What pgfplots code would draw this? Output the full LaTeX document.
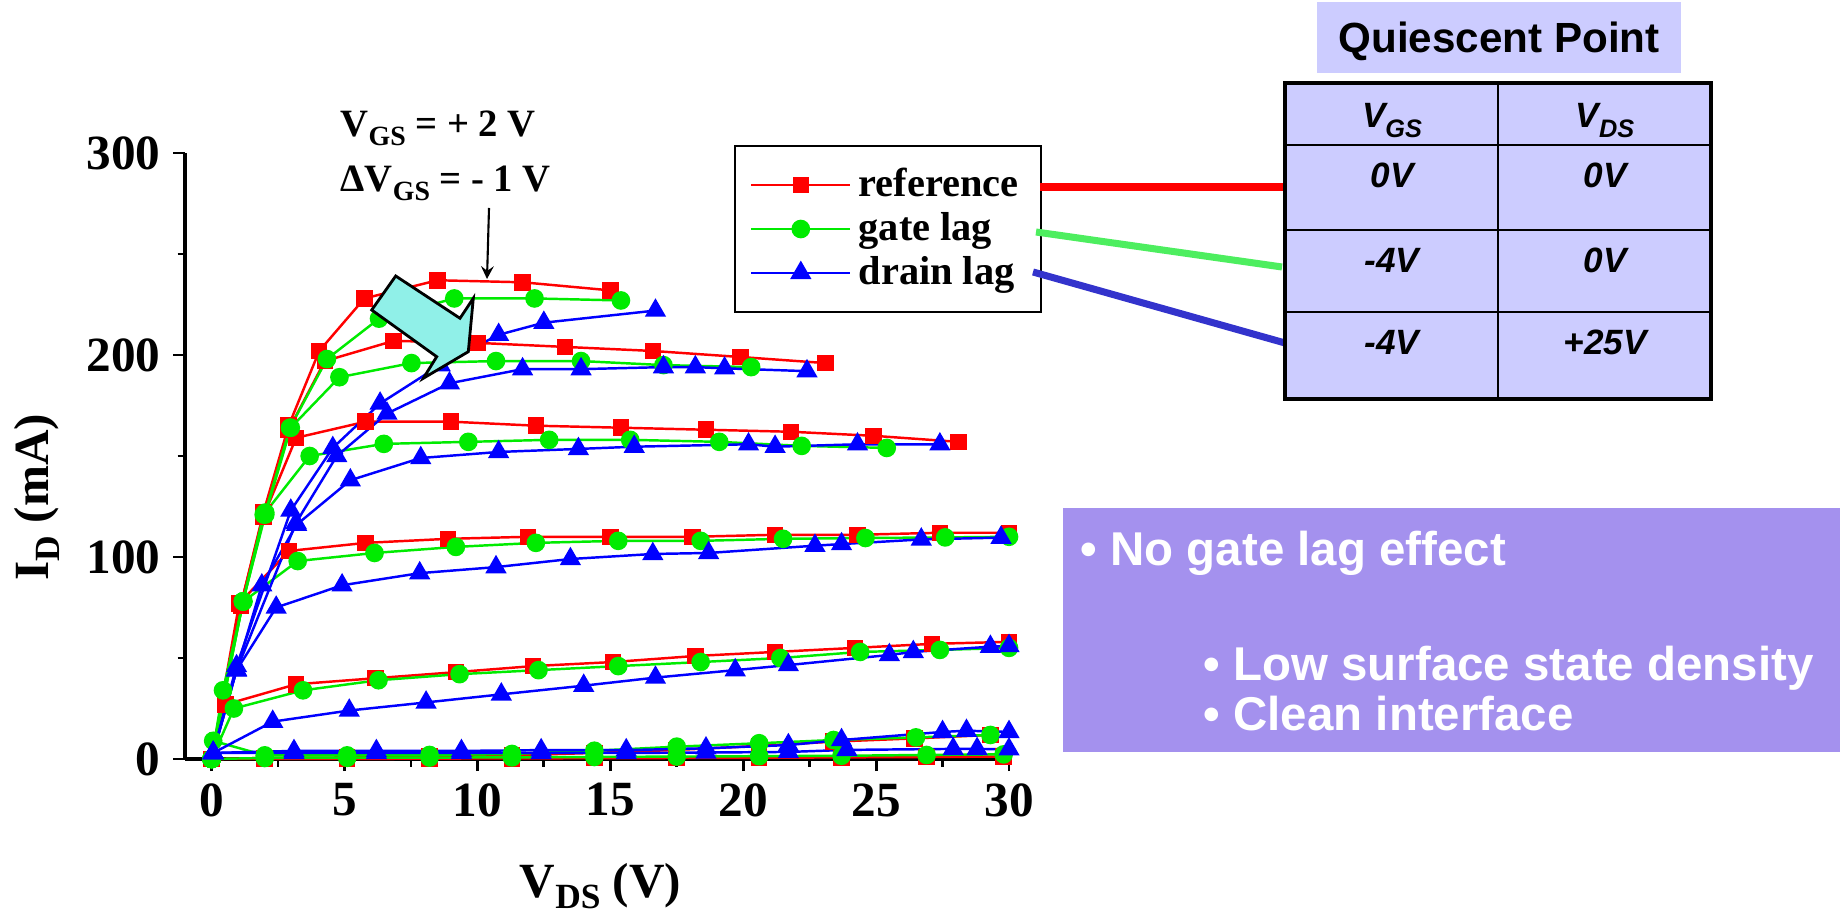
\documentclass[border=0pt]{standalone}
\usepackage{pgfplots}
\pgfplotsset{compat=1.18}
\usepackage{graphicx}
\usepackage{fontspec}
\setmainfont{Liberation Serif}
\newfontfamily\sansf{Liberation Sans}
\definecolor{gg}{RGB}{0,235,0}
\definecolor{lav}{RGB}{204,204,255}
\definecolor{purp}{RGB}{164,145,238}
\definecolor{cyanar}{RGB}{144,240,232}
\definecolor{lgreen}{RGB}{77,238,95}
\definecolor{cblue}{RGB}{51,51,204}
\newcommand\sub[1]{\raisebox{-0.5ex}{\scalebox{0.72}{#1}}}
\pgfplotsset{
 refs/.style={color=red, line width=0.7pt, mark=square*, mark size=2pt, mark options={solid}},
 gls/.style={color=gg, line width=0.7pt, mark=*, mark size=2.3pt, mark options={solid}},
 dls/.style={color=blue, line width=0.7pt, mark=triangle*, mark size=2.8pt, mark options={solid}},
}
\begin{document}
\begin{tikzpicture}
\path[use as bounding box] (0,0) rectangle (184.8mm,-92.2mm);
\begin{axis}[
 at={(18.5mm,-75.9mm)}, anchor=south west, scale only axis,
 width=82.4mm, height=60.6mm,
 xmin=-1, xmax=30, ymin=0, ymax=300,
 axis lines=left, axis line style={-, line width=0.9pt},
 xtick={0,5,...,30}, ytick={0,100,200,300},
 minor x tick num=1, minor y tick num=1,
 tick align=outside, major tick length=1.2mm, minor tick length=0.75mm,
 every tick/.style={black, line width=0.8pt},
 tick label style={font=\bfseries\fontsize{14}{16}\selectfont},
 /pgf/number format/assume math mode=true,
 clip=false,
 legend style={at={(0.6663,1.0132)}, anchor=north west, draw=black, line width=0.6pt,
   font=\bfseries\fontsize{11.5}{13}\selectfont, inner xsep=1.5mm, inner ysep=1.5mm,
   row sep=-1pt},
 legend cell align=left,
 legend image code/.code={\draw[mark repeat=2,mark phase=2,#1] plot coordinates {(0mm,0mm) (4.95mm,0mm) (9.9mm,0mm)};},
]
% reference
\addplot[refs] coordinates {(0,0)(1.1,76)(1.95,122)(2.9,165)(4.05,202)(5.75,228)(8.5,237)(11.7,236)(15,232)};
\addlegendentry{reference}
\addplot[refs,forget plot] coordinates {(0,0)(1.1,76)(1.95,121)(2.9,163)(4.26,197)(6.85,207)(10,206)(13.3,204)(16.6,202)(19.9,199)(23.1,196)};
\addplot[refs,forget plot] coordinates {(0,0)(1.1,76)(1.95,120)(3.18,159)(5.8,167)(9,167)(12.2,165)(15.4,164)(18.6,163)(21.8,162)(24.9,160)(28.1,157)};
\addplot[refs,forget plot] coordinates {(0,0)(1.04,77)(2.91,103)(5.8,107)(8.9,109)(11.9,110)(15,110)(18.1,110)(21.2,111)(24.3,111)(27.4,112)(30,112)};
\addplot[refs,forget plot] coordinates {(0,0)(0.53,27)(3.18,37)(6.17,40)(9.2,43)(12.1,46)(15.1,48)(18.2,51)(21.2,53)(24.2,55)(27.1,57)(30,58)};
\addplot[refs,forget plot] coordinates {(0,0)(2,0.5)(5.1,0.8)(8.2,1.2)(11.3,1.8)(14.4,3)(17.5,4.5)(20.6,6.5)(23.4,8.6)(26.45,10.2)(29.3,11.9)};
\addplot[refs,forget plot] coordinates {(0,0)(2,0)(5.1,0)(8.2,0.2)(11.3,0.3)(14.4,0.4)(17.5,0.5)(20.6,0.6)(23.7,0.8)(26.9,1)(29.8,1.2)};
% gate lag
\addplot[gls] coordinates {(0,0)(1.18,78)(2.02,122)(2.95,164)(4.34,198)(6.3,218)(9.13,228)(12.15,228)(15.4,227)};
\addlegendentry{gate lag}
\addplot[gls,forget plot] coordinates {(0,0)(1.18,78)(2.02,121)(2.98,164)(4.81,189)(7.52,196)(10.7,197)(13.9,197)(17,195)(20.3,194)};
\addplot[gls,forget plot] coordinates {(0,0)(1.18,78)(1.96,121)(3.69,150)(6.48,156)(9.66,157)(12.7,158)(15.75,158)(19.1,157)(22.2,155)(25.4,154)};
\addplot[gls,forget plot] coordinates {(0,0)(0.43,34)(1.2,78)(3.24,98)(6.13,102)(9.19,105)(12.2,107)(15.3,108)(18.4,108)(21.5,109)(24.6,109.4)(27.6,109.7)(30,110)};
\addplot[gls,forget plot] coordinates {(0,0)(0.84,25)(3.44,34)(6.28,39)(9.33,42)(12.3,44)(15.3,46)(18.4,48)(21.4,50)(24.4,53)(27.4,54)(30,55)};
\addplot[gls,forget plot] coordinates {(0,0)(0.06,9)(2,1.8)(5.1,1.8)(8.2,2)(11.3,2.5)(14.4,4.1)(17.5,6.1)(20.6,7.8)(23.4,9.4)(26.5,10.7)(29.3,11.9)};
\addplot[gls,forget plot] coordinates {(0,0)(2,0.5)(5.1,0.6)(8.2,0.7)(11.3,0.8)(14.4,1)(17.5,1.2)(20.6,1.4)(23.7,1.6)(26.9,2)(29.8,2.3)};
% drain lag
\addplot[dls] coordinates {(0.06,3)(0.94,46)(2.98,123)(4.56,154)(6.34,176)(8.6,195)(10.8,210)(12.5,216)(16.7,222)};
\addlegendentry{drain lag}
\addplot[dls,forget plot] coordinates {(0.06,3)(0.94,44)(3.18,117)(4.71,150)(6.6,171)(8.95,186)(11.7,193)(13.9,193)(17,194)(18.2,194)(19.3,193.4)(22.4,192)};
\addplot[dls,forget plot] coordinates {(0.06,3)(0.94,44)(1.89,86)(3.2,116)(5.22,138)(7.87,149)(10.8,152)(13.8,153.5)(15.9,154.6)(20.2,155.8)(21.2,154.6)(24.3,155.8)(27.4,155.8)};
\addplot[dls,forget plot] coordinates {(0.06,3)(0.94,44)(2.43,75)(4.91,86)(7.83,92)(10.7,95)(13.5,99)(16.6,101.5)(18.7,102)(22.7,105.6)(23.7,106.4)(26.7,108.7)(29.7,109.6)};
\addplot[dls,forget plot] coordinates {(0.06,3)(2.3,18.5)(5.18,24)(8.07,28)(10.9,32)(14,36.3)(16.7,40.3)(19.7,44)(21.7,46.5)(25.5,51.5)(26.4,53)(29.3,55.6)(30,56)};
\addplot[dls,forget plot] coordinates {(0.06,3)(3.1,4)(6.2,4)(9.4,4)(12.4,4.4)(15.6,4.4)(18.6,5.3)(21.7,6.9)(23.7,9.4)(27.5,13.4)(28.4,14)(30,13.4)};
\addplot[dls,forget plot] coordinates {(0.06,3)(3.1,3)(6.2,3)(9.4,3)(12.4,3)(15.6,3)(18.6,3.2)(21.7,3.5)(23.9,4.5)(27.9,5)(28.8,5)(30,4.8)};
\end{axis}
\begin{scope}[x=0.1mm, y=-0.1mm]
% block arrow
\filldraw[fill=cyanar, draw=black, line width=0.8pt, line join=miter]
 (395.7,276) -- (460,318.3) -- (473.3,298.3) -- (468.3,351.7) -- (423.3,378.3) -- (436.7,356.7) -- (371.7,310) -- cycle;
% thin arrow
\draw[-stealth, line width=0.6pt] (489,208) -- (487,279);
% annotations
\node[anchor=base west, inner sep=0pt, font=\bfseries\fontsize{11}{13}\selectfont] at (340,137) {V\sub{GS} = + 2 V};
\node[anchor=base west, inner sep=0pt, font=\bfseries\fontsize{11}{13}\selectfont] at (340,192) {ΔV\sub{GS} = - 1 V};
% axis labels
\node[rotate=90, anchor=center, inner sep=0pt, font=\bfseries\fontsize{14}{16}\selectfont] at (37,497) {I\sub{D} (mA)};
\node[anchor=base west, inner sep=0pt, font=\bfseries\fontsize{14}{16}\selectfont] at (519,897) {V\sub{DS} (V)};
% connectors
\draw[red, line width=2pt] (1040,187) -- (1286,187);
\draw[lgreen, line width=2pt] (1036,232) -- (1282,267);
\draw[cblue, line width=2pt] (1033,272) -- (1285,343);
% title box
\fill[lav] (1317,2) rectangle (1681,73);
\node[anchor=base, inner sep=0pt, font=\sansf\bfseries\fontsize{12}{14}\selectfont] at (1499,53) {Quiescent Point};
% table
\filldraw[fill=lav, draw=black, line width=1.3pt] (1285,83) rectangle (1711,399);
\draw[line width=0.6pt] (1498,83) -- (1498,399);
\draw[line width=0.6pt] (1285,145) -- (1711,145);
\draw[line width=0.6pt] (1285,230) -- (1711,230);
\draw[line width=0.6pt] (1285,312) -- (1711,312);
\begin{scope}[every node/.style={anchor=base, inner sep=0pt, font=\sansf\bfseries\itshape\fontsize{10}{12}\selectfont}]
\node at (1392,128) {V\sub{GS}};
\node at (1605,128) {V\sub{DS}};
\node at (1392,188) {0V};
\node at (1605,188) {0V};
\node at (1392,273) {-4V};
\node at (1605,273) {0V};
\node at (1392,355) {-4V};
\node at (1605,355) {+25V};
\end{scope}
% purple box
\fill[purp] (1063,508) rectangle (1840,752);
\begin{scope}[every node/.style={anchor=base west, inner sep=0pt, text=white, font=\sansf\bfseries\fontsize{13.5}{15}\selectfont}]
\node at (1080,565) {• No gate lag effect};
\node at (1203,680) {• Low surface state density};
\node at (1203,730) {• Clean interface};
\end{scope}
\end{scope}
\end{tikzpicture}
\end{document}
